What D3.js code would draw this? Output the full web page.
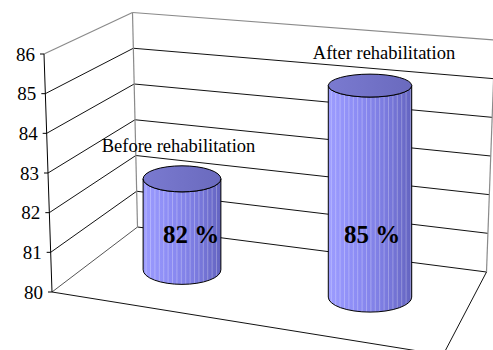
<!DOCTYPE html>
<html>
<head>
<meta charset="utf-8">
<script src="https://cdn.jsdelivr.net/npm/d3@7"></script>
<style>
  html, body { margin: 0; padding: 0; background: #fff; overflow: hidden; }
  svg { display: block; }
</style>
</head>
<body>
<svg id="chart" width="493" height="350"></svg>
<script>
// ---- data ----
const categories = ["Before rehabilitation", "After rehabilitation"];
const values = [82, 85];
const valueLabels = ["82 %", "85 %"];
const yTicks = [80, 81, 82, 83, 84, 85, 86];
const yDomain = [80, 86];

// ---- layout ----
const serif = "'Liberation Serif', 'Times New Roman', Times, serif";
const svg = d3.select("#chart").attr("font-family", serif);

// Projected vertical edges of the 3D box: value -> screen position on each edge
const frontLeftX  = d3.scaleLinear().domain(yDomain).range([52, 44]);
const frontLeftY  = d3.scaleLinear().domain(yDomain).range([292, 54]);
const backLeftX   = d3.scaleLinear().domain(yDomain).range([137.5, 132.5]);
const backLeftY   = d3.scaleLinear().domain(yDomain).range([227, 12.5]);
const backRightX  = d3.scaleLinear().domain(yDomain).range([486.5, 495]);
const backRightY  = d3.scaleLinear().domain(yDomain).range([272, 40]);
const frontRightFloor = [443, 355];

const fl = v => [frontLeftX(v), frontLeftY(v)];
const bl = v => [backLeftX(v), backLeftY(v)];
const br = v => [backRightX(v), backRightY(v)];
const lerp = (a, b, t) => a + (b - a) * t;

const line = (g, a, b, stroke, width) => g.append("line")
  .attr("x1", a[0]).attr("y1", a[1]).attr("x2", b[0]).attr("y2", b[1])
  .attr("stroke", stroke).attr("stroke-width", width);

const walls = svg.append("g").attr("class", "walls");
const wallEdge = "#8a8a8a";

// gridlines on side wall and back wall
yTicks.forEach(v => {
  const top = v === yDomain[1];
  const bottom = v === yDomain[0];
  line(walls, fl(v), bl(v), top ? wallEdge : (bottom ? "#555" : "#111"), top ? 1.2 : 1);
  line(walls, bl(v), br(v), top ? wallEdge : "#111", top ? 1.2 : 1);
});
// wall corner edges
line(walls, bl(yDomain[0]), bl(yDomain[1]), wallEdge, 1.2);
line(walls, br(yDomain[0]), br(yDomain[1]), wallEdge, 1.2);

// floor outline
line(walls, fl(yDomain[0]), frontRightFloor, "#111", 1);
line(walls, br(yDomain[0]), frontRightFloor, "#111", 1);

// value axis on the front-left edge
const axis = svg.append("g").attr("class", "axis")
  .attr("font-family", serif).attr("font-size", 19);
line(axis, fl(yDomain[0]), fl(yDomain[1]), "#000", 1);
yTicks.forEach(v => {
  const [x, y] = fl(v);
  line(axis, [x - 4, y], [x, y], "#000", 1);
  axis.append("text")
    .attr("x", x - 9).attr("y", y)
    .attr("dy", "0.35em")
    .attr("text-anchor", "end")
    .attr("fill", "#000")
    .text(String(v));
});

// ---- cylinders ----
const band = d3.scaleBand().domain(categories).range([88, 464]);
const centerOf = c => band(c) + band.bandwidth() / 2;

// row of columns sits part way between the back and front of the floor
const depthT = 0.47;
const rowLeft  = [lerp(backLeftX(80), frontLeftX(80), depthT), lerp(backLeftY(80), frontLeftY(80), depthT)];
const rowRight = [lerp(backRightX(80), frontRightFloor[0], depthT), lerp(backRightY(80), frontRightFloor[1], depthT)];
const rowBaseY = d3.scaleLinear().domain([rowLeft[0], rowRight[0]]).range([rowLeft[1], rowRight[1]]);

// foreshortening of one value unit along the row
const rowUnit = d3.scaleLinear()
  .domain([centerOf(categories[0]), centerOf(categories[1])])
  .range([45.5, 42.3]);
// ellipse radii grow as the shape comes lower in the view
const rxAt = d3.scaleLinear().domain([271, 297]).range([39, 41.7]);
const ryAt = d3.scaleLinear().domain([88, 297]).range([11.5, 15]);

const defs = svg.append("defs");
const grad = defs.append("linearGradient").attr("id", "sideGrad")
  .attr("x1", "0%").attr("x2", "100%").attr("y1", "0%").attr("y2", "0%");
[["0%", "#9c9cff"], ["35%", "#8c8cf4"], ["70%", "#7a7ade"], ["100%", "#6464c0"]]
  .forEach(([o, c]) => grad.append("stop").attr("offset", o).attr("stop-color", c));
const topGrad = defs.append("linearGradient").attr("id", "topGrad")
  .attr("x1", "0%").attr("x2", "100%").attr("y1", "0%").attr("y2", "0%");
[["0%", "#7a7ad0"], ["100%", "#6a6abe"]]
  .forEach(([o, c]) => topGrad.append("stop").attr("offset", o).attr("stop-color", c));

const cyl = svg.append("g").attr("class", "cylinders");
categories.forEach((c, i) => {
  const cx = centerOf(c);
  const base = rowBaseY(cx);
  const top = base - rowUnit(cx) * (values[i] - yDomain[0]);
  const rx = rxAt(base);
  const ryB = ryAt(base), ryT = ryAt(top);
  const sidePath = `M${cx - rx},${top} L${cx - rx},${base} ` +
    `A${rx},${ryB} 0 0 0 ${cx + rx},${base} L${cx + rx},${top} ` +
    `A${rx},${ryT} 0 0 1 ${cx - rx},${top} Z`;

  defs.append("clipPath").attr("id", "clip" + i)
    .append("path").attr("d", sidePath);

  const g = cyl.append("g");
  g.append("path").attr("d", sidePath).attr("fill", "url(#sideGrad)");
  // facet highlights
  const stripes = g.append("g").attr("clip-path", `url(#clip${i})`);
  d3.range(cx - rx + 3, cx + rx - 1, 4.4).forEach(x => {
    stripes.append("line")
      .attr("x1", x).attr("x2", x)
      .attr("y1", top - ryT).attr("y2", base + ryB + 1)
      .attr("stroke", "#ffffff").attr("stroke-opacity", 0.35).attr("stroke-width", 0.8);
  });
  g.append("path").attr("d", sidePath)
    .attr("fill", "none").attr("stroke", "#000").attr("stroke-width", 1);
  g.append("ellipse")
    .attr("cx", cx).attr("cy", top).attr("rx", rx).attr("ry", ryT)
    .attr("fill", "url(#topGrad)").attr("stroke", "#000").attr("stroke-width", 1);
});

// ---- labels ----
const labelNudge = [-3.5, 14];
const valueNudge = [9, 2];
const labels = svg.append("g").attr("class", "labels")
  .attr("font-family", serif).attr("fill", "#000");
categories.forEach((c, i) => {
  const cx = centerOf(c);
  const base = rowBaseY(cx);
  const top = base - rowUnit(cx) * (values[i] - yDomain[0]);
  labels.append("text")
    .attr("x", cx + labelNudge[i]).attr("y", top - 27)
    .attr("text-anchor", "middle")
    .attr("font-size", 18.5)
    .text(c);
  labels.append("text")
    .attr("x", cx + valueNudge[i]).attr("y", 243)
    .attr("text-anchor", "middle")
    .attr("font-size", 25).attr("font-weight", "bold")
    .text(valueLabels[i]);
});
</script>
</body>
</html>
